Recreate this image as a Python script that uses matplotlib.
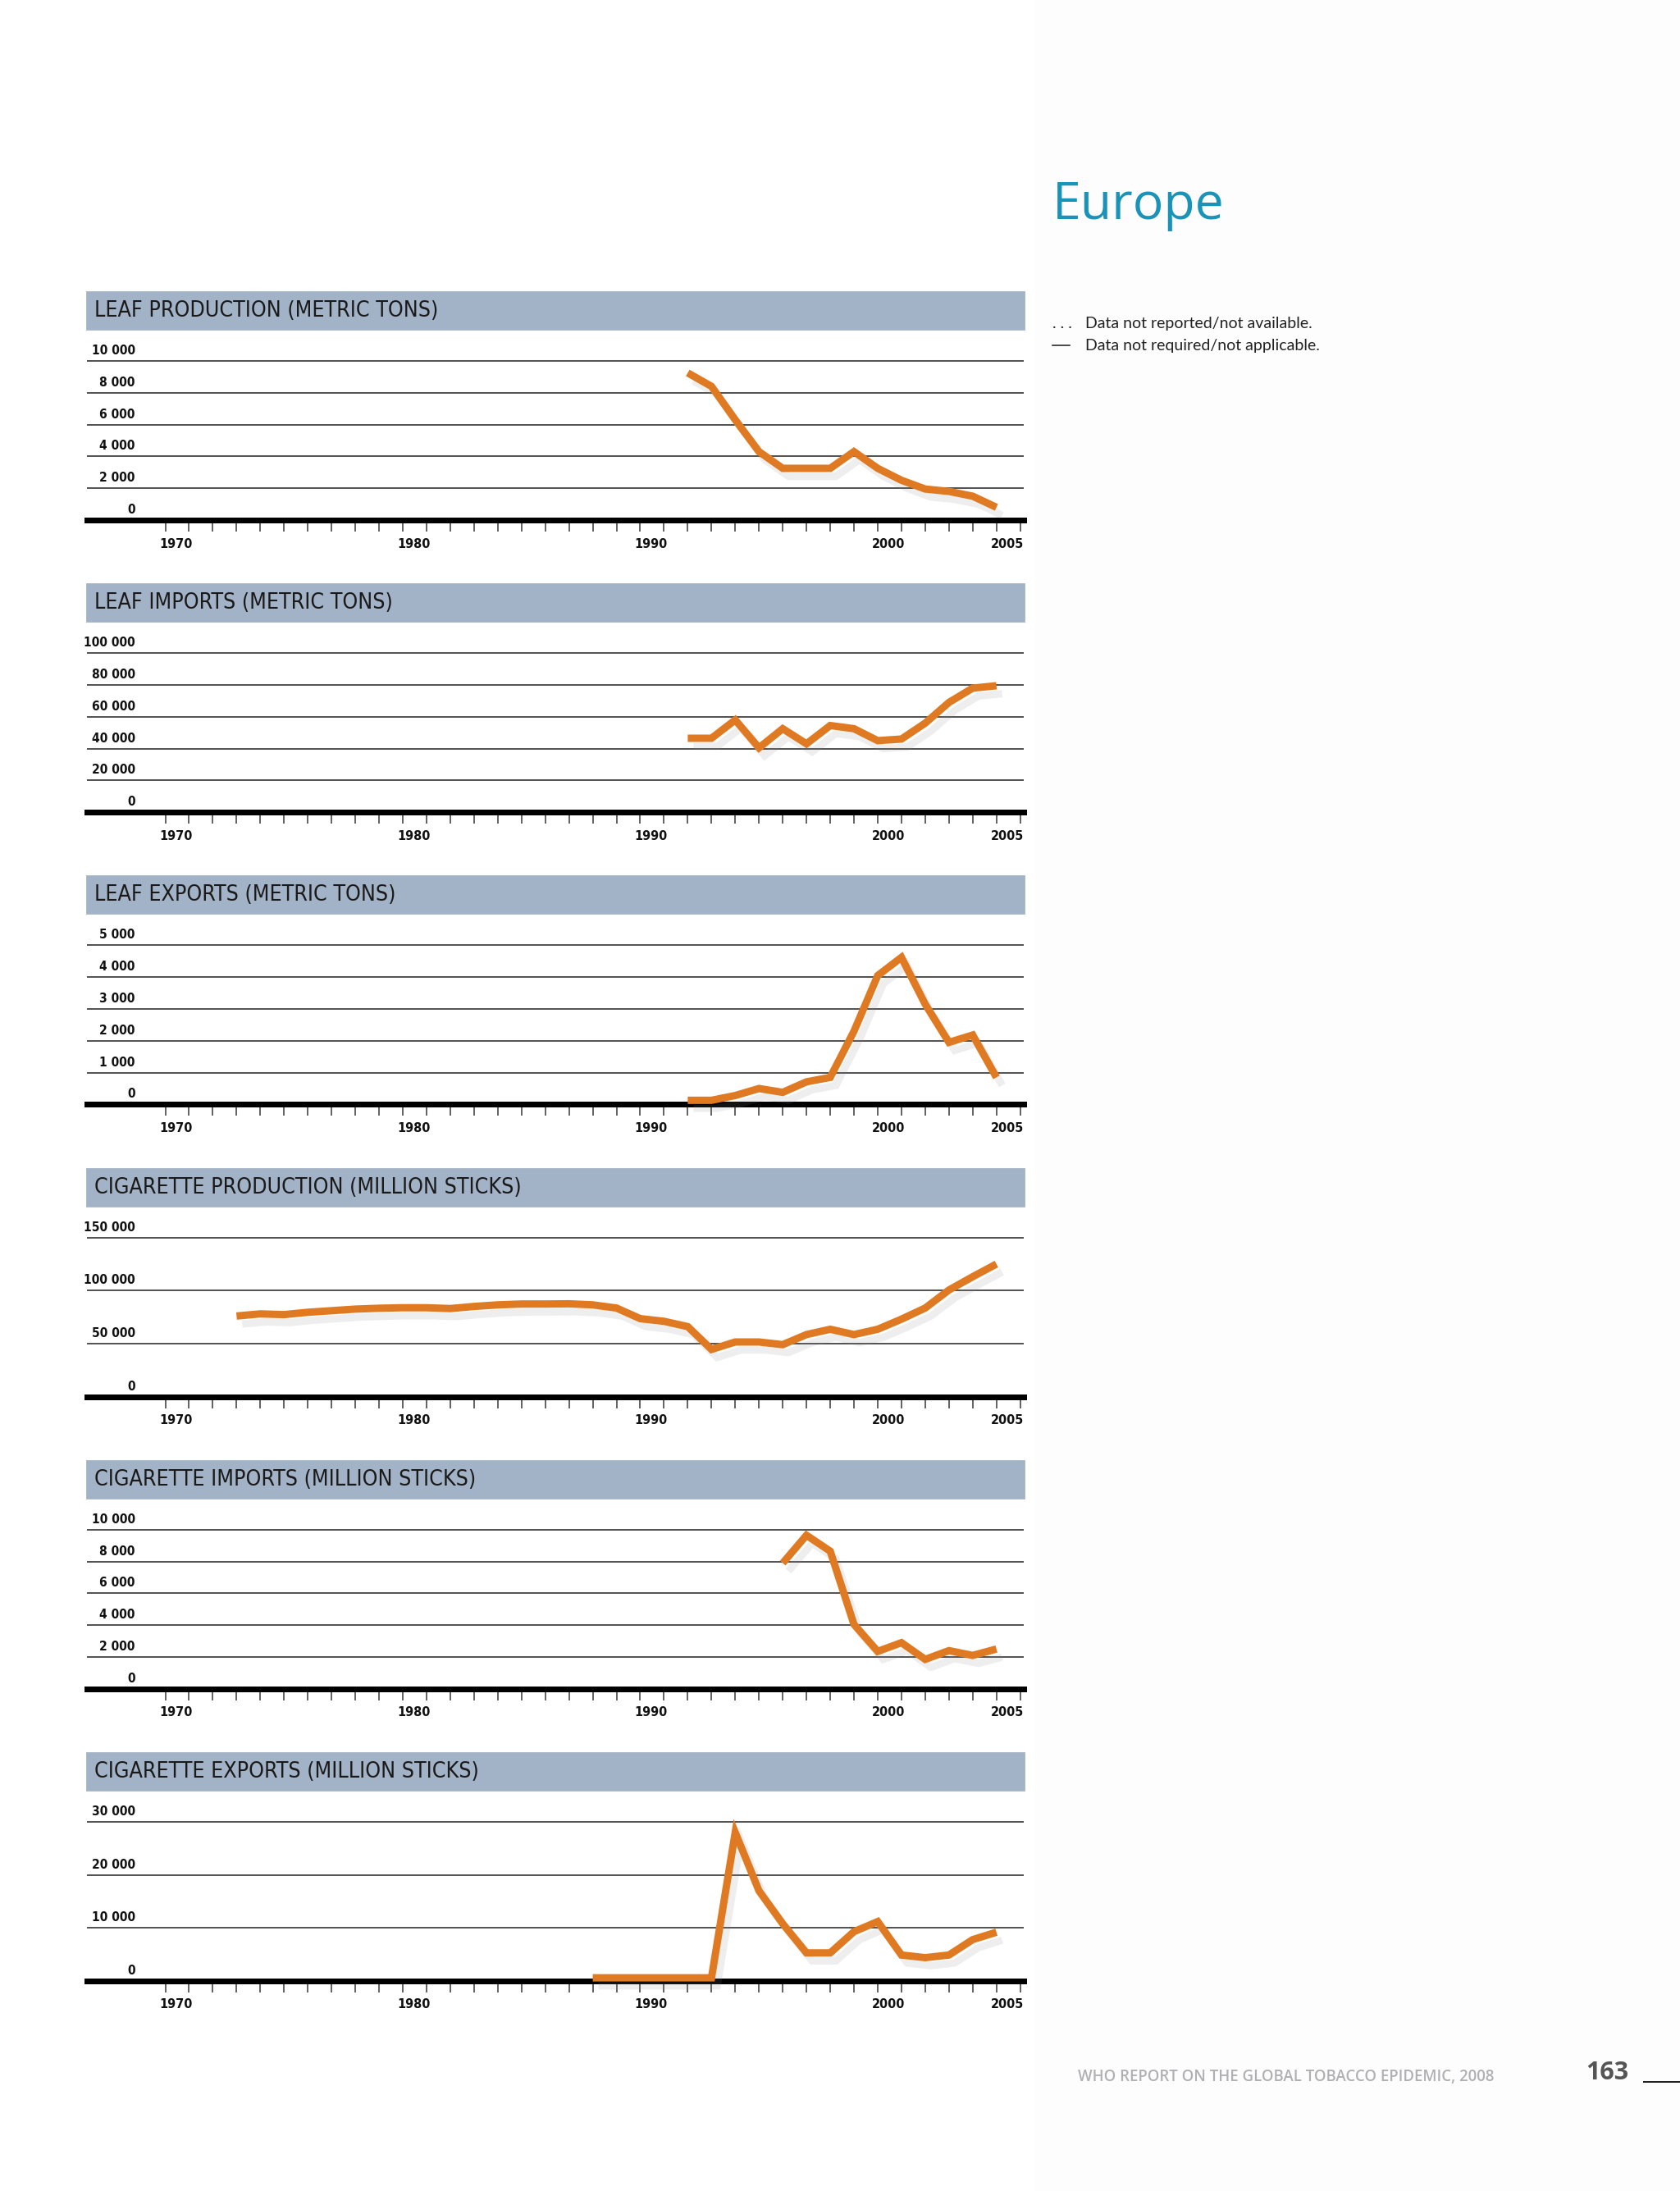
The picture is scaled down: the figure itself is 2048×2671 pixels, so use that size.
import matplotlib
matplotlib.use("Agg")
import matplotlib.pyplot as plt
import matplotlib.patheffects as pe
from matplotlib.patches import Rectangle
from matplotlib.lines import Line2D
import matplotlib.transforms as mtransforms

W, H, DPI = 2048, 2671, 200

# 데이터 (연도별 값)
leaf_prod_years = list(range(1992, 2006))
leaf_prod = [9250, 8400, 6300, 4300, 3250, 3250, 3250, 4300, 3250, 2500, 1950, 1800, 1500, 800]

leaf_imp_years = list(range(1992, 2006))
leaf_imp = [46500, 46500, 58000, 40500, 52500, 43000, 54500, 52500, 45000, 46000, 56000, 69000, 78000, 79500]

leaf_exp_years = list(range(1992, 2006))
leaf_exp = [130, 130, 280, 500, 380, 710, 850, 2300, 4050, 4620, 3150, 1950, 2180, 850]

cig_prod_years = list(range(1973, 2006))
cig_prod = [76000, 78000, 77300, 79500, 81000, 82500, 83300, 83800, 83800, 83000, 85000, 86500, 87300,
            87300, 87500, 86500, 83500, 73500, 71000, 66000, 44500, 51500, 51500, 49000, 58500, 63500,
            58500, 63500, 73000, 83500, 100500, 113000, 125000]

cig_imp_years = list(range(1996, 2006))
cig_imp = [7900, 9650, 8650, 4050, 2350, 2900, 1850, 2400, 2100, 2500]

cig_exp_years = list(range(1988, 2006))
cig_exp = [600, 600, 600, 600, 600, 600, 28000, 17000, 10800, 5300, 5300, 9300, 11200, 4900, 4400, 4900,
           7800, 9200]

titles = ["LEAF PRODUCTION (METRIC TONS)", "LEAF IMPORTS (METRIC TONS)", "LEAF EXPORTS (METRIC TONS)",
          "CIGARETTE PRODUCTION (MILLION STICKS)", "CIGARETTE IMPORTS (MILLION STICKS)",
          "CIGARETTE EXPORTS (MILLION STICKS)"]
yticks = [[0, 2000, 4000, 6000, 8000, 10000],
          [0, 20000, 40000, 60000, 80000, 100000],
          [0, 1000, 2000, 3000, 4000, 5000],
          [0, 50000, 100000, 150000],
          [0, 2000, 4000, 6000, 8000, 10000],
          [0, 10000, 20000, 30000]]
series = [(leaf_prod_years, leaf_prod), (leaf_imp_years, leaf_imp), (leaf_exp_years, leaf_exp),
          (cig_prod_years, cig_prod), (cig_imp_years, cig_imp), (cig_exp_years, cig_exp)]
year_labels = [1970, 1980, 1990, 2000, 2005]

narrow = ["DejaVu Sans"]
orange = "#e07a22"
band_col = "#a3b3c7"


def px(v):
    return v * 72 / DPI


def fx(x):
    return x / W


def fy(y):
    return 1 - y / H


fig = plt.figure(figsize=(W / DPI, H / DPI), dpi=DPI)
fig.patch.set_facecolor("white")

# 오른쪽 옅은 배경
fig.patches.append(Rectangle((fx(1262), 0), 1 - fx(1262), 1, transform=fig.transFigure,
                             color="#fdfdfe", zorder=0))

left, right = 106, 1248
for k in range(6):
    T = 356 + 356.2 * k
    # 제목 띠
    fig.patches.append(Rectangle((fx(left), fy(T + 45)), fx(right) - fx(left), 45 / H,
                                 transform=fig.transFigure, color=band_col, zorder=1))
    fig.text(fx(115), fy(T + 23), titles[k], family=narrow, fontstretch="condensed",
             fontweight="light", fontsize=9.6, color="#1a1a1a", va="center", ha="left")

    top_px, base_px = T + 70, T + 278
    ax = fig.add_axes([fx(left), fy(base_px), fx(right) - fx(left), (base_px - top_px) / H])
    ax.patch.set_alpha(0)
    ymax = yticks[k][-1]
    ax.set_ylim(0, ymax * 208 / 194)
    ax.set_xlim(1966.7, 2006.15)
    for s in ax.spines.values():
        s.set_visible(False)
    ax.set_yticks([])
    ax.set_xticks([])
    ax.set_xticks(range(1970, 2007), minor=True)
    ax.tick_params(axis="x", which="minor", direction="out", length=px(14), width=px(1.5),
                   color="#333333", labelbottom=False)

    for v in yticks[k][1:]:
        ax.axhline(v, color="#555555", lw=px(2), zorder=2)
    ax.axhline(0, color="black", lw=px(7), zorder=3, clip_on=False)

    lab_tr = mtransforms.offset_copy(ax.get_yaxis_transform(), fig=fig, x=0, y=px(5), units="points")
    for v in yticks[k]:
        ax.text(0.0516, v, f"{v:,}".replace(",", " "), transform=lab_tr, ha="right", va="bottom",
                family=narrow, fontstretch="condensed", fontsize=5.6, fontweight="bold", color="#111111")

    for yr in year_labels:
        ax.text(yr + 0.45, -29 / 208, str(yr), transform=ax.get_xaxis_transform(), ha="center",
                va="center", family=narrow, fontstretch="condensed", fontsize=5.8, fontweight="bold",
                color="#111111")

    xs, ys = series[k]
    ax.plot(xs, ys, color=orange, lw=px(9), solid_joinstyle="miter", solid_capstyle="butt",
            clip_on=False, zorder=4,
            path_effects=[pe.SimpleLineShadow(offset=(2.5, -3.5), shadow_color="#888888", alpha=0.14),
                          pe.Normal()])

# 지역 제목과 범례
fig.text(fx(1283), fy(267), "Europe", fontsize=22.5, color="#1a93b8", family="Open Sans",
         va="baseline", ha="left")
fig.text(fx(1283), fy(400), ". . .", fontsize=7, color="#222222", family="Lato", va="baseline")
fig.lines.append(Line2D([fx(1283), fx(1304)], [fy(421), fy(421)], transform=fig.transFigure,
                        color="#222222", lw=px(1.6)))
fig.text(fx(1323), fy(400), "Data not reported/not available.", fontsize=7, color="#222222",
         family="Lato", va="baseline")
fig.text(fx(1323), fy(427), "Data not required/not applicable.", fontsize=7, color="#222222",
         family="Lato", va="baseline")

# 하단
fig.text(fx(1314), fy(2537), "WHO REPORT ON THE GLOBAL TOBACCO EPIDEMIC, 2008", fontsize=6.7,
         color="#b0b0b4", family="Open Sans", fontweight="semibold", va="baseline")
fig.text(fx(1933), fy(2535), "163", fontsize=11, color="#555555", family="Open Sans",
         fontweight="bold", va="baseline")
fig.lines.append(Line2D([fx(2004), 1], [fy(2538), fy(2538)], transform=fig.transFigure,
                        color="#222222", lw=px(2)))

fig.savefig("out.png", dpi=DPI)
